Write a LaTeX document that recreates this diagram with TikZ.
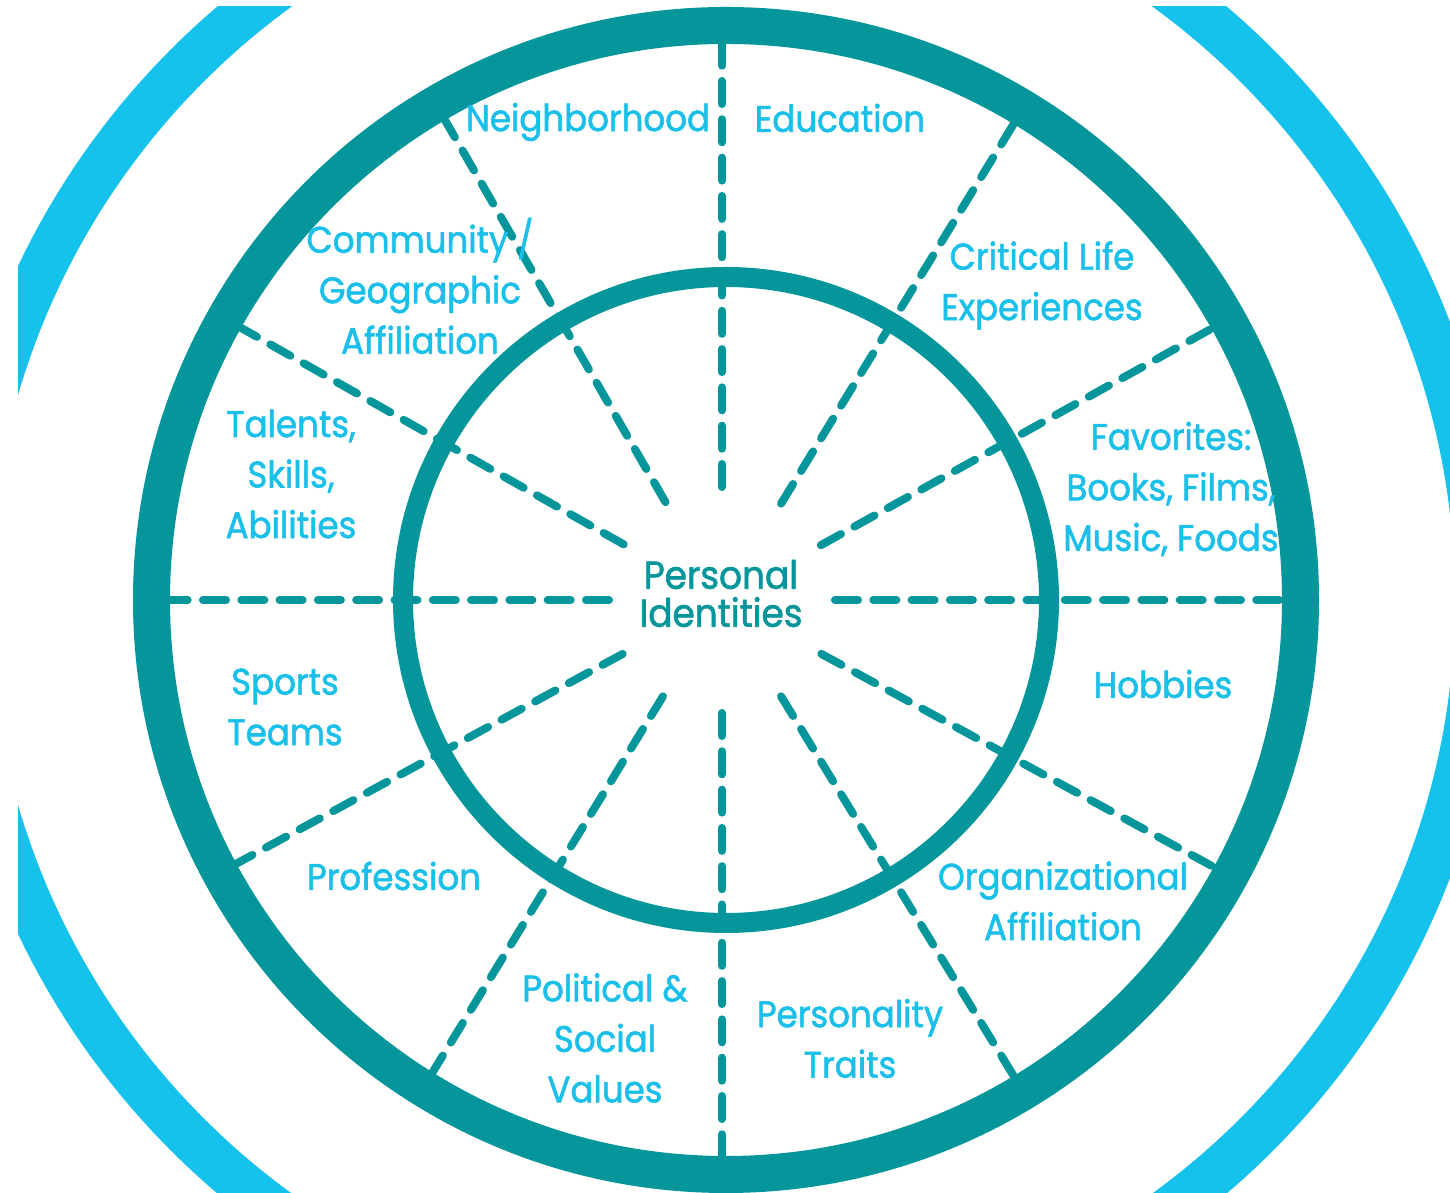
\documentclass[tikz,border=0pt]{standalone}
\usepackage{fontspec}
\setmainfont[FakeStretch=0.92,FakeBold=1.5]{Poppins}
\definecolor{ringteal}{RGB}{4,150,154}
\definecolor{ringblue}{RGB}{20,194,236}
\definecolor{labelblue}{RGB}{26,191,234}
\begin{document}
\begin{tikzpicture}[x=1pt,y=1pt,
  spoke/.style={draw=ringteal, line width=8pt, line cap=round, dash pattern=on 23pt off 15.3pt},
  lab/.style={text=labelblue, align=center, inner sep=0pt, font=\fontsize{37}{50.5}\selectfont},
  centrelab/.style={text=ringteal, align=center, inner sep=0pt, font=\fontsize{39}{38}\selectfont}
]
\useasboundingbox (0,0) rectangle (1450,1193);
\fill[white] (0,0) rectangle (1450,1193);
\coordinate (c) at (722,593);
\coordinate (rc) at (726,593);
\begin{scope}
  \clip (18,0) rectangle (1450,1186);
  \draw[ringblue, line width=46pt] (c) circle[radius=756];
  \foreach \a/\n in {0/a,29/b,58.5/c,90/d,120/e,150.5/f,180/g,208.5/h,238.5/i,270/j,301.5/k,331.5/l}{
    \coordinate (s\n1) at ([shift={(\a:113)}]c);
    \coordinate (s\n2) at ([shift={(\a:566)}]c);
    \draw[spoke] (s\n1) -- (s\n2);
  }
  \draw[ringteal, line width=37pt] (rc) circle[radius=574.5];
  \draw[ringteal, line width=20pt] (rc) circle[radius=323];
\end{scope}
\node[lab] (nb) at (588,1071) {Neighborhood};
\node[lab] (ed) at (840,1075) {Education};
\node[lab] (cg) at (420,907) {Community /\\Geographic\\Affiliation};
\node[lab] (cl) at (1042,907.5) {Critical Life\\Experiences};
\node[lab] (ta) at (291,719) {Talents,\\Skills,\\Abilities};
\node[lab] (fa) at (1171,704) {Favorites:\\Books, Films,\\Music, Foods};
\node[centrelab] (pi) at (721,599.5) {Personal\\Identities};
\node[lab] (sp) at (285,486) {Sports\\Teams};
\node[lab] (hb) at (1163,509) {Hobbies};
\node[lab] (pr) at (394,317) {Profession};
\node[lab] (oa) at (1063,292) {Organizational\\Affiliation};
\node[lab] (ps) at (605,155) {Political \&\\Social\\Values};
\node[lab] (pt) at (850,154.5) {Personality\\Traits};
\end{tikzpicture}
\end{document}
